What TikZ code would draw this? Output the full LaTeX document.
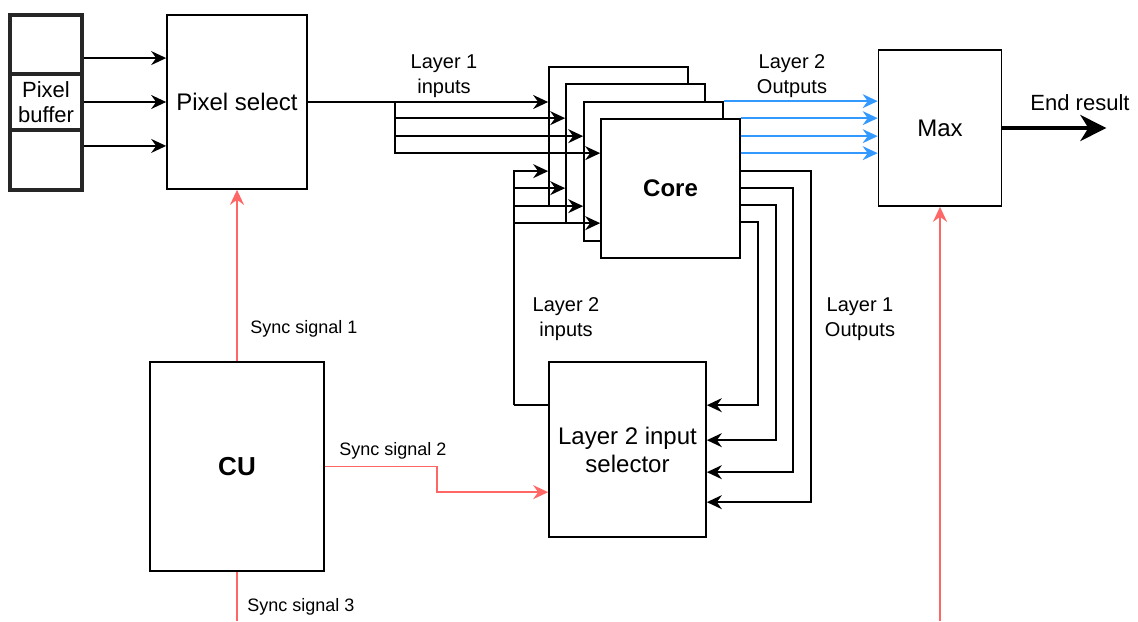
\documentclass[tikz,border=0pt]{standalone}
\usepackage{fontspec}
\setmainfont{Liberation Sans}
\usepackage{tikz}
\usetikzlibrary{arrows.meta, positioning, calc}
\definecolor{syncred}{HTML}{FF6666}
\definecolor{outblue}{HTML}{3399FF}

\begin{document}
\begin{tikzpicture}[x=0.5pt, y=-0.5pt,
  every node/.style={font=\fontsize{12}{14}\selectfont},
  block/.style={rectangle, draw, line width=0.85pt, fill=white, align=center, inner sep=0pt},
  layer/.style={block, minimum width=69.5pt, minimum height=69.5pt},
  cell/.style={rectangle, draw=black!85, line width=1.6pt, minimum width=36pt, inner sep=0pt, align=center, font=\fontsize{11}{12.5}\selectfont},
  lbl/.style={align=center, inner sep=0pt, font=\fontsize{10}{12.5}\selectfont},
  synclbl/.style={anchor=west, inner sep=0pt, font=\fontsize{9}{11}\selectfont},
  link/.style={line width=0.85pt},
  wire/.style={link, -{Stealth[length=7.5pt, width=7pt, inset=2.5pt]}},
  sync/.style={wire, draw=syncred},
  l2out/.style={wire, draw=outblue},
]
\useasboundingbox (0,0) rectangle (1138,621);

% Pixel buffer and select
\node[cell, minimum height=29.5pt] (buf1) at (46,44.5) {};
\node[cell, minimum height=28pt] (buf2) at (46,102) {Pixel\\buffer};
\node[cell, minimum height=30pt] (buf3) at (46,160) {};
\node[block, minimum width=70pt, minimum height=87pt] (psel) at (237,102) {Pixel select};

% Core stack, back to front
\node[layer] (core1) at (618.5,136.5) {};
\node[layer] (core2) at (635.5,153.5) {};
\node[layer] (core3) at (653.5,171.5) {};
\node[layer, font=\bfseries\fontsize{12}{14}\selectfont] (core) at (670.5,188.5) {Core};

\node[block, minimum width=61.5pt, minimum height=78pt] (max) at (940,128) {Max};
\node[block, minimum width=87pt, minimum height=104.5pt, font=\bfseries\fontsize{13}{15}\selectfont] (cu) at (237,466.5) {CU};
\node[block, minimum width=78.5pt, minimum height=87.5pt] (sel) at (627.5,449.5) {Layer 2 input\\selector};

% Buffer rows
\coordinate (pin1) at ($(psel.north west)!0.25!(psel.south west)$);
\coordinate (pin3) at ($(psel.north west)!0.75!(psel.south west)$);
\draw[wire] (buf1.east |- pin1) -- (pin1);
\draw[wire] (buf2.east) -- (psel.west);
\draw[wire] (buf3.east |- pin3) -- (pin3);

% Layer 1 inputs
\coordinate (l1bus) at ([xshift=43.5pt]psel.east);
\draw[wire] (psel.east) -- (core1.west |- psel.east);
\draw[wire] (l1bus) |- ([yshift=-17.5pt]core2.north west);
\draw[wire] (l1bus) |- ([yshift=-17.5pt]core3.north west);
\draw[wire] (l1bus) |- ([yshift=-17.5pt]core.north west);

% Layer 2 inputs
\coordinate (l2in) at ([yshift=-22pt]sel.north west);
\coordinate (l2bus) at ([xshift=-17pt]l2in);
\draw[link] (l2in) -- (l2bus);
\draw[wire] (l2bus) |- ([yshift=-52.5pt]core1.north west);
\draw[wire] (l2bus) |- ([yshift=-52.5pt]core2.north west);
\draw[wire] (l2bus) |- ([yshift=-52.5pt]core3.north west);
\draw[wire] (l2bus) |- ([yshift=-52.5pt]core.north west);

% Layer 1 outputs
\draw[wire] ([yshift=-26.5pt]core.north east) -- ++(70,0) |- ([yshift=-70.5pt]sel.north east);
\draw[wire] ([yshift=-35pt]core.north east) -- ++(52,0) |- ([yshift=-55.5pt]sel.north east);
\draw[wire] ([yshift=-43.5pt]core.north east) -- ++(35,0) |- ([yshift=-39.5pt]sel.north east);
\draw[wire] ([yshift=-52pt]core.north east) -- ++(17,0) |- ([yshift=-22pt]sel.north east);

% Layer 2 outputs
\draw[l2out] (core3.north east) -- (core3.north east -| max.west);
\draw[l2out] (core.north east) -- (core.north east -| max.west);
\draw[l2out] ([yshift=-9pt]core.north east) -- ([yshift=-9pt]core.north east -| max.west);
\draw[l2out] ([yshift=-17.5pt]core.north east) -- ([yshift=-17.5pt]core.north east -| max.west);

% End result
\coordinate (res) at ([xshift=52pt]max.east);
\draw[line width=2pt, -{Stealth[length=13pt, width=13pt, inset=4pt]}] (max.east) -- (res);
\node[font=\fontsize{11}{13}\selectfont] (reslbl) at (1080,103) {End result};

% Sync signals
\coordinate (bot) at (0,621);
\draw[sync] (cu.north) -- (psel.south);
\draw[sync] (cu.east) -- ++(112,0) |- ([yshift=-65.5pt]sel.north west);
\draw[sync, -] (cu.south) -- (cu.south |- bot);
\draw[sync] (max.south |- bot) -- (max.south);

\node[synclbl] (s1) at (250,329) {Sync signal 1};
\node[synclbl] (s2) at (339,451) {Sync signal 2};
\node[synclbl] (s3) at (247,607) {Sync signal 3};

% Flow labels
\node[lbl] (l1inlbl) at (444,76) {Layer 1\\inputs};
\node[lbl] (l2outlbl) at (792,76) {Layer 2\\Outputs};
\node[lbl] (l2inlbl) at (566,319) {Layer 2\\inputs};
\node[lbl] (l1outlbl) at (860,319) {Layer 1\\Outputs};

\end{tikzpicture}
\end{document}
